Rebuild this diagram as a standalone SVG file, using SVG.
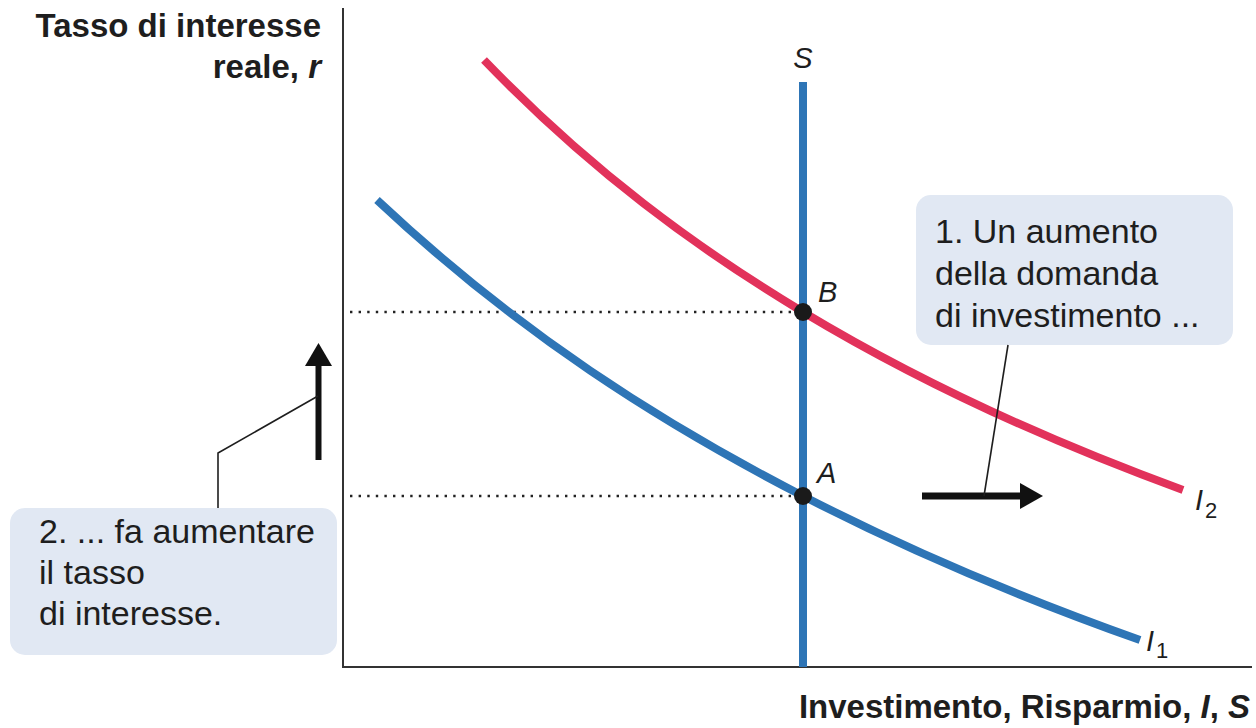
<svg xmlns="http://www.w3.org/2000/svg" width="1256" height="728" viewBox="0 0 1256 728">
<style>
.lbl{font-family:"Liberation Sans",Arial,sans-serif;fill:#1e1e1e}
.bold{font-weight:bold}
.it{font-style:italic}
.sub{font-style:normal;font-size:22px}
.box{fill:#e1e8f3}
.curve{fill:none;stroke-width:8;stroke-linecap:butt}
.blue{stroke:#2e75b6}
.red{stroke:#e2325b}
.dot{stroke:#222;stroke-width:2.6;stroke-dasharray:2.4 6.2;fill:none}
.axis{stroke:#333;stroke-width:2;fill:none}
.lead{stroke:#1e1e1e;stroke-width:1.6;fill:none}
.shaft{stroke:#111;fill:none}
</style>
<rect width="1256" height="728" fill="#ffffff"/>

<g id="axes">
  <path class="axis" d="M343,8 V667 H1252"/>
</g>

<g id="axis-labels">
  <text class="lbl bold" x="321" y="37" font-size="33" text-anchor="end">Tasso di interesse</text>
  <text class="lbl bold" x="321" y="78" font-size="33" text-anchor="end">reale, <tspan class="it">r</tspan></text>
  <text class="lbl bold" x="1250" y="718" font-size="33" text-anchor="end">Investimento, Risparmio, <tspan class="it">I</tspan>, <tspan class="it">S</tspan></text>
</g>

<g id="dotted-guides">
  <line class="dot" x1="350" y1="312" x2="800" y2="312"/>
  <line class="dot" x1="350" y1="496" x2="800" y2="496"/>
</g>

<g id="curve-S">
  <line class="curve blue" x1="803" y1="82" x2="803" y2="667"/>
  <text class="lbl it" x="803" y="68" font-size="29" text-anchor="middle">S</text>
</g>

<g id="curve-I1">
  <path class="curve blue" d="M377,200 C519,333.2 661,422.9 803,496 C915.3,553.8 1027.7,600.2 1140,640"/>
  <text class="lbl" x="1146" y="651" font-size="29"><tspan class="it">I</tspan><tspan class="sub" dx="2" dy="7">1</tspan></text>
</g>

<g id="curve-I2">
  <path class="curve red" d="M484,60 C590.3,170.3 696.7,248 803,312 C929.7,388.2 1056.3,443.8 1183,490"/>
  <text class="lbl" x="1195" y="510" font-size="29"><tspan class="it">I</tspan><tspan class="sub" dx="2" dy="8">2</tspan></text>
</g>

<g id="point-B">
  <circle cx="803" cy="312" r="9" fill="#1a1a1a"/>
  <text class="lbl it" x="818" y="302" font-size="29">B</text>
</g>

<g id="point-A">
  <circle cx="803" cy="496" r="9" fill="#1a1a1a"/>
  <text class="lbl it" x="817" y="483" font-size="29">A</text>
</g>

<g id="box-1">
  <rect class="box" x="916" y="195" width="317" height="150" rx="15"/>
  <text class="lbl" x="935" y="243" font-size="34">1. Un aumento</text>
  <text class="lbl" x="935" y="285" font-size="34">della domanda</text>
  <text class="lbl" x="935" y="327" font-size="34">di investimento ...</text>
</g>

<g id="box-2">
  <rect class="box" x="10" y="508" width="327" height="147" rx="15"/>
  <text class="lbl" x="39" y="543" font-size="34">2. ... fa aumentare</text>
  <text class="lbl" x="39" y="584" font-size="34">il tasso</text>
  <text class="lbl" x="39" y="625" font-size="34">di interesse.</text>
</g>

<g id="connectors">
  <line class="shaft" x1="318.5" y1="460" x2="318.5" y2="362" stroke-width="6"/>
  <polygon points="305,366 332,366 318.5,343" fill="#111"/>
  <line class="shaft" x1="922" y1="496" x2="1022" y2="496" stroke-width="7"/>
  <polygon points="1020,483 1020,509 1043,496" fill="#111"/>
  <polyline class="lead" points="318,396 218,453 218,508"/>
  <line class="lead" x1="1008" y1="345" x2="984" y2="496"/>
</g>
</svg>
